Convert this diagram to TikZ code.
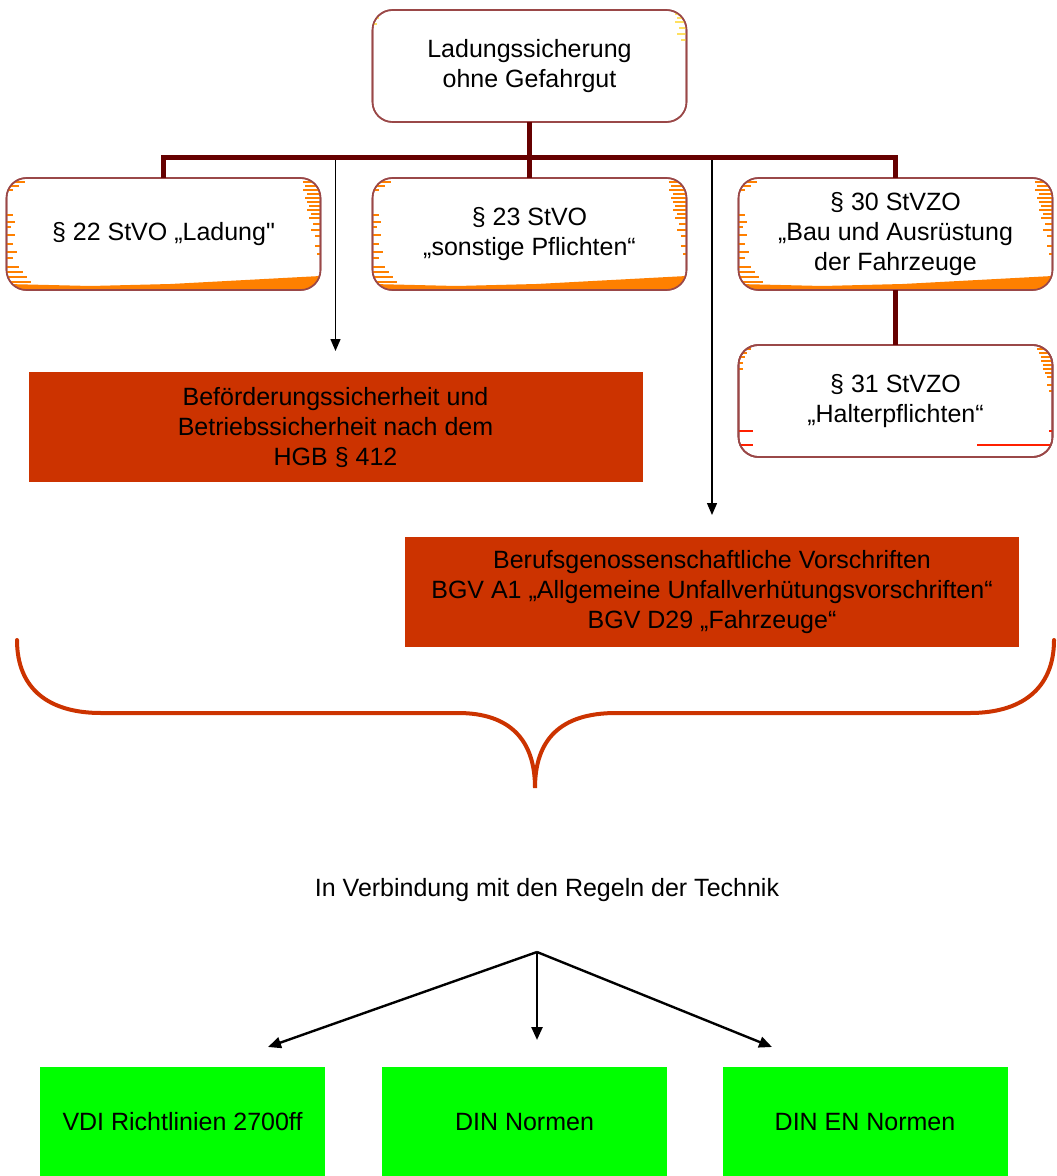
\documentclass[tikz,border=0pt]{standalone}
\usepackage{fontspec}
\setmainfont{Liberation Sans}
\usetikzlibrary{arrows.meta, positioning}

\definecolor{treeline}{HTML}{660000}
\definecolor{boxline}{HTML}{9A4848}
\definecolor{rulered}{HTML}{CC3300}
\definecolor{normgreen}{HTML}{00FF00}
\definecolor{stripe}{HTML}{FF8000}
\definecolor{pale}{HTML}{FFE060}
\definecolor{redstripe}{HTML}{FF2000}

% short edge strokes inside a rounded box: #3 left side, #4 right side (y/length in pt)
\newcommand\stripes[4]{%
  \begin{scope}
    \clip[rounded corners=10pt] (#1.south west) rectangle (#1.north east);
    \foreach \yy/\ll in {#3}
      \draw[#2, line width=1.2pt] ([yshift=\yy pt]#1.south west) -- ++(\ll pt,0);
    \foreach \yy/\ll in {#4}
      \draw[#2, line width=1.2pt] ([yshift=\yy pt]#1.south east) -- ++(-\ll pt,0);
  \end{scope}
  \draw[boxline, line width=0.8pt, rounded corners=10pt] (#1.south west) rectangle (#1.north east);}

\newcommand\rowstripes[1]{%
  \begin{scope}
    \clip[rounded corners=10pt] (#1.south west) rectangle (#1.north east);
    \fill[stripe] (#1.south west) -- (#1.south east) -- ++(0,7pt) -- ++(-75pt,-4pt)
      -- ++(-40pt,-1pt) -- ([yshift=3pt]#1.south west) -- cycle;
  \end{scope}
  \stripes{#1}{stripe}{54/9, 52/6, 50/3, 37.5/3, 34/4, 31.5/2, 27.5/4, 23/3, 19/5, 16/3,
    11.5/6, 9/8, 6.5/10, 4/12}
   {54/9, 52/8, 50/9, 48/7, 46/8, 44/7, 42/6, 40/7, 38/5, 36/6, 33/4, 30/5, 27/3, 22/3, 18/2}}

\begin{document}
\begin{tikzpicture}[
  x=0.5pt, y=-0.5pt,
  every node/.style={font=\fontsize{12.5}{15}\selectfont},
  frame/.style={draw=boxline, line width=0.8pt, fill=white, rounded corners=10pt,
                align=center, minimum width=157pt, minimum height=56pt,
                inner sep=2pt, outer sep=0pt},
  rulebox/.style={fill=rulered, align=center, minimum width=307pt,
                  minimum height=55pt, outer sep=0pt},
  normbox/.style={fill=normgreen, minimum width=142.5pt, minimum height=55pt,
                  outer sep=0pt},
  tree/.style={draw=treeline, line width=2.5pt},
  link/.style={draw, -{Triangle[length=6pt, width=5pt]}, line width=0.7pt},
  fan/.style={draw, -{Triangle[length=6.5pt, width=5.5pt]}, line width=1.2pt},
  brace/.style={draw=rulered, line width=2pt, line cap=round},
]
\useasboundingbox (0,0) rectangle (1056,1176);

\node[frame] (top) at (529.5,66) {Ladungssicherung\\ohne Gefahrgut};
\node[frame] (s23) [below=28pt of top] {§ 23 StVO\\„sonstige Pflichten“};
\node[frame] (s22) [left=26pt of s23]  {§ 22 StVO „Ladung\textquotedbl};
\node[frame] (s30) [right=26pt of s23] {§ 30 StVZO\\„Bau und Ausrüstung\\der Fahrzeuge};
\node[frame] (s31) [below=27.5pt of s30] {§ 31 StVZO\\„Halterpflichten“};

\stripes{top}{pale}{52/3, 49/2}{54/6, 52/5, 50/6, 47/4, 44/5, 41/3}
\rowstripes{s22}
\rowstripes{s23}
\rowstripes{s30}
\stripes{s31}{stripe}{54/6, 52/4, 50/3, 47/2, 44/2}
  {54/8, 52/7, 50/6, 48/6, 46/5, 44/5, 42/4, 40/3, 36/3, 33/2}
\stripes{s31}{redstripe}{13/7, 6/7}{13/2, 6/38}

\node[rulebox] (hgb) at (335.5,427)
  {Beförderungssicherheit und\\Betriebssicherheit nach dem\\HGB § 412};
\node[rulebox] (bgv) at (712,592)
  {Berufsgenossenschaftliche Vorschriften\\BGV A1 „Allgemeine Unfallverhütungsvorschriften“\\BGV D29 „Fahrzeuge“};

% organigram lines
\coordinate (bar) at (529.5,158);
\draw[tree] (top.south) -- (bar);
\draw[tree] (s22.north) |- (bar) -| (s30.north);
\draw[tree] (bar) -- (s23.north);
\draw[tree] (s30.south) -- (s31.north);
\draw[link, shorten <=1.2pt, shorten >=10.5pt] (hgb.north |- bar) -- (hgb.north);
\draw[link, shorten <=1.2pt, shorten >=11pt] (bgv.north |- bar) -- (bgv.north);

% brace
\draw[brace] (17,640) .. controls (17,690) and (50,713) .. (101,713) -- (458,713)
  .. controls (510,713) and (535,740) .. (535,788)
  .. controls (535,740) and (560,713) .. (616,713) -- (970,713)
  .. controls (1020,713) and (1054,690) .. (1054,640);

\node (tech) at (547,890) {In Verbindung mit den Regeln der Technik};
\coordinate (split) at (537,952);

\node[normbox] (vdi)  at (182.5,1122) {VDI Richtlinien 2700ff};
\node[normbox] (din)  at (524.5,1122) {DIN Normen};
\node[normbox] (dinen) at (865,1122)  {DIN EN Normen};

\draw[fan] (split) -- ([xshift=42.75pt, yshift=10pt]vdi.north);
\draw[fan] (split) -- ([xshift=6.25pt, yshift=13.5pt]din.north);
\draw[fan] (split) -- ([xshift=-46.5pt, yshift=10pt]dinen.north);
\end{tikzpicture}
\end{document}
